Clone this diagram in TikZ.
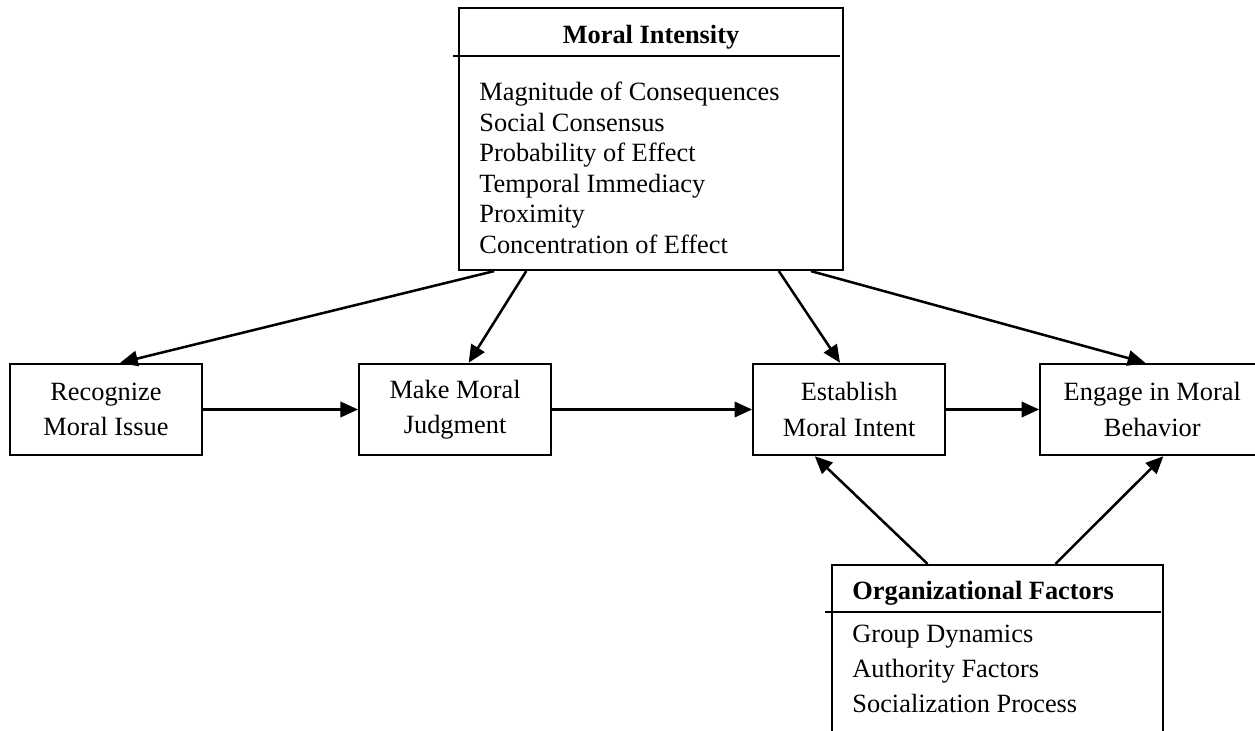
\documentclass[tikz,border=0pt]{standalone}
\usepackage{fontspec}
\setmainfont{Liberation Serif}
\usetikzlibrary{arrows.meta, positioning, calc}

\begin{document}
\begin{tikzpicture}[
  stepbox/.style={rectangle, draw, line width=1pt, minimum width=3.07cm, minimum height=1.46cm,
    align=center, inner sep=2pt, font=\fontsize{12}{16}\selectfont},
  panel/.style={rectangle, draw, line width=1pt, inner sep=0pt},
  heading/.style={font=\fontsize{12}{14}\selectfont\bfseries, inner sep=0pt},
  items/.style={align=left, inner sep=0pt, anchor=north west},
  rule/.style={line width=1pt},
  arr/.style={-{Triangle[length=8pt, width=7pt]}, line width=1.15pt},
]
\clip (0,0) rectangle (20.08,11.696);

% the four steps
\node[stepbox] (rec) at (1.696,5.144) {Recognize\\Moral Issue};
\node[stepbox, right=2.48cm of rec] (judge) {Make Moral\\Judgment};
\node[stepbox, right=3.2cm of judge] (intent) {Establish\\Moral Intent};
\node[stepbox, right=1.488cm of intent, minimum width=3.584cm] (behav) {Engage in Moral\\Behavior};

% moral intensity panel
\node[panel, minimum width=6.144cm, minimum height=4.192cm] (mi) at (10.416,9.472) {};
\node[heading, anchor=base] (mititle) at (10.416,10.992) {Moral Intensity};
\draw[rule] ([xshift=-0.08cm, yshift=-0.784cm]mi.north west) -- ([xshift=-0.064cm, yshift=-0.784cm]mi.north east);
\node[items, font=\fontsize{12}{13.85}\selectfont] (milist) at (7.664,10.384) {%
  Magnitude of Consequences\\
  Social Consensus\\
  Probability of Effect\\
  Temporal Immediacy\\
  Proximity\\
  Concentration of Effect};

% organizational factors panel (runs off the bottom)
\node[panel, minimum width=5.296cm, minimum height=2.88cm] (org) at (15.96,1.216) {};
\node[heading, anchor=base west] (orgtitle) at (13.632,2.096) {Organizational Factors};
\draw[rule] ([xshift=-0.096cm, yshift=-0.768cm]org.north west) -- ([xshift=-0.048cm, yshift=-0.768cm]org.north east);
\node[items, font=\fontsize{12}{15.9}\selectfont] (orglist) at (13.632,1.696) {%
  Group Dynamics\\
  Authority Factors\\
  Socialization Process};

% step to step
\draw[arr] (rec.east) -- (judge.west);
\draw[arr] (judge.east) -- (intent.west);
\draw[arr] (intent.east) -- (behav.west);

% intensity feeds every step
\draw[arr] ($(mi.south west)!0.094!(mi.south east)$) -- ($(rec.north west)!0.573!(rec.north east)$);
\draw[arr] ($(mi.south west)!0.177!(mi.south east)$) -- ($(judge.north west)!0.57!(judge.north east)$);
\draw[arr] ($(mi.south west)!0.831!(mi.south east)$) -- ($(intent.north west)!0.453!(intent.north east)$);
\draw[arr] ($(mi.south west)!0.914!(mi.south east)$) -- ($(behav.north west)!0.469!(behav.north east)$);

% organizational factors feed intent and behavior
\draw[arr] ($(org.north west)!0.29!(org.north east)$) -- ($(intent.south west)!0.323!(intent.south east)$);
\draw[arr] ($(org.north west)!0.674!(org.north east)$) -- ($(behav.south west)!0.549!(behav.south east)$);
\end{tikzpicture}
\end{document}
